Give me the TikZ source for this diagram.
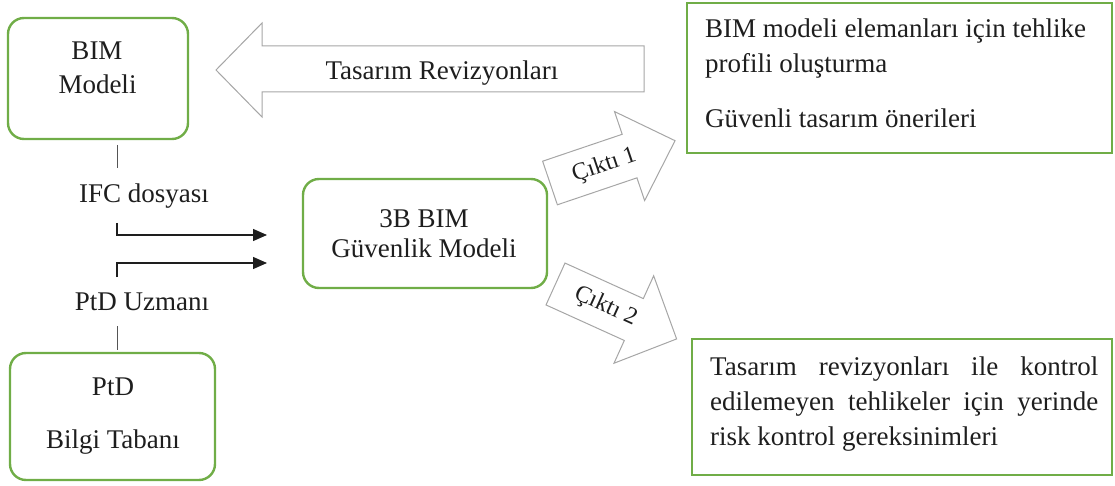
\documentclass[tikz,border=0pt]{standalone}
\usepackage{fontspec}
\setmainfont{Liberation Serif}
\usetikzlibrary{arrows.meta}
\definecolor{boxgreen}{HTML}{70AD47}
\definecolor{arrowgray}{HTML}{A6A6A6}
\definecolor{ink}{HTML}{1E1E1E}
\definecolor{stubgray}{HTML}{555555}

\begin{document}
\begin{tikzpicture}[x=1pt,y=-1pt,
  font=\fontsize{27}{35}\selectfont, text=ink,
  roundbox/.style={draw=boxgreen, line width=2.4pt, rounded corners=16pt, inner sep=0pt},
  sqbox/.style={draw=boxgreen, line width=2.4pt, inner sep=0pt},
  txt/.style={inner sep=0pt, anchor=base},
  txtl/.style={inner sep=0pt, anchor=base west},
  fatarrow/.style={draw=arrowgray, line width=1pt, fill=white, line join=miter},
  smalltxt/.style={inner sep=0pt, font=\fontsize{24}{28}\selectfont},
  stub/.style={draw=stubgray, line width=1pt},
  linkarrow/.style={draw=ink, line width=1.3pt, -{Triangle[length=14pt,width=12pt]}},
]
\useasboundingbox (0,0) rectangle (1115,486);

% green boxes
\node[roundbox, minimum width=180pt, minimum height=121pt] (bim) at (98,78.5) {};
\node[roundbox, minimum width=205pt, minimum height=127pt] (ptd) at (112.5,416.5) {};
\node[roundbox, minimum width=244pt, minimum height=109pt] (safety) at (425,233.5) {};
\node[sqbox, minimum width=425pt, minimum height=150pt] (out1) at (899.5,78) {};
\node[sqbox, minimum width=420pt, minimum height=136pt] (out2) at (902,407) {};

% box texts
\node[txt] (bimA) at (97,60) {BIM};
\node[txt] (bimB) at (97.5,94) {Modeli};
\node[txt] (ptdA) at (113,395) {PtD};
\node[txt] (ptdB) at (113,448) {Bilgi Tabanı};
\node[txt] (safeA) at (424,228) {3B BIM};
\node[txt] (safeB) at (424,257) {Güvenlik Modeli};

\node[txtl] (out1A) at (705,38) {BIM modeli elemanları için tehlike};
\node[txtl] (out1B) at (705,73) {profili oluşturma};
\node[txtl] (out1C) at (705,128) {Güvenli tasarım önerileri};

\node[txtl] (out2A) at (710,375) {\makebox[388pt][s]{Tasarım revizyonları ile kontrol}};
\node[txtl] (out2B) at (710,410) {\makebox[388pt][s]{edilemeyen tehlikeler için yerinde}};
\node[txtl] (out2C) at (710,445) {risk kontrol gereksinimleri};

% design revisions block arrow
\draw[fatarrow] (644,46) -- (262,46) -- (262,23) -- (216,70) -- (262,117)
  -- (262,92) -- (644,92) -- cycle;
\node[txt] (revis) at (442,80) {Tasarım Revizyonları};

% output block arrows
\begin{scope}[shift={(550,183)}, rotate=18.7]
  \draw[fatarrow] (0,-23) -- (84,-23) -- (84,-47) -- (132,0) -- (84,47)
    -- (84,23) -- (0,23) -- cycle;
  \node[smalltxt, rotate=18.7] (cikti1) at (57,1) {Çıktı 1};
\end{scope}
\begin{scope}[shift={(555.5,284)}, rotate=-24.4]
  \draw[fatarrow] (0,-23) -- (86,-23) -- (86,-48) -- (133,0) -- (86,48)
    -- (86,23) -- (0,23) -- cycle;
  \node[smalltxt, rotate=-24.4] (cikti2) at (55,0) {Çıktı 2};
\end{scope}

% input labels and links
\node[txt] (ifc) at (144,203) {IFC dosyası};
\node[txt] (expert) at (142,310) {PtD Uzmanı};

\coordinate (bimStub) at (117,145);
\coordinate (ifcStub) at (117,168);
\draw[stub] (bimStub) -- (ifcStub);
\coordinate (expertStub) at (117,326);
\coordinate (ptdStub) at (117,350);
\draw[stub] (expertStub) -- (ptdStub);

\coordinate (ifcFrom) at (117,223);
\coordinate (ifcTo) at (267,235);
\draw[linkarrow] (ifcFrom) |- (ifcTo);
\coordinate (expertFrom) at (117,277);
\coordinate (expertTo) at (267,263);
\draw[linkarrow] (expertFrom) |- (expertTo);
\end{tikzpicture}
\end{document}
